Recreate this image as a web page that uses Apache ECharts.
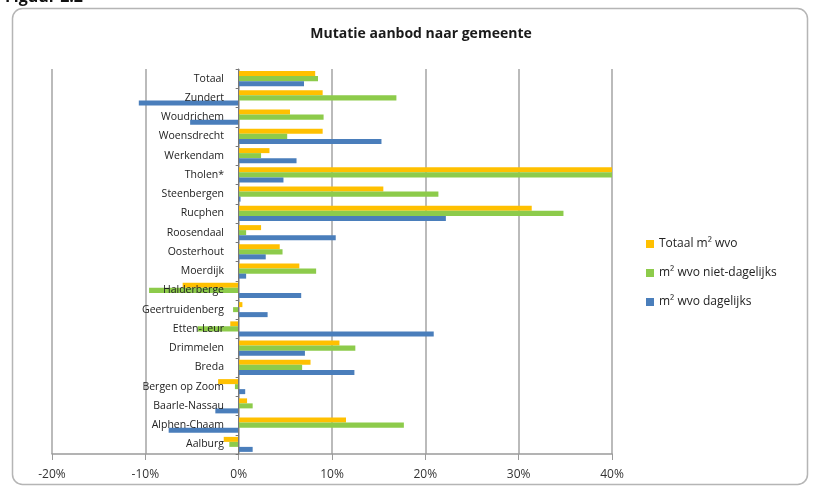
<!DOCTYPE html>
<html>
<head>
<meta charset="utf-8">
<script src="https://cdn.jsdelivr.net/npm/echarts@6/dist/echarts.min.js"></script>
<style>
  html, body { margin: 0; padding: 0; background: #fff; }
  #main { width: 816px; height: 491px; }
</style>
</head>
<body>
<div id="main"></div>
<script>
// gemeenten, van boven naar beneden
var gemeenten = ["Totaal", "Zundert", "Woudrichem", "Woensdrecht", "Werkendam", "Tholen*",
  "Steenbergen", "Rucphen", "Roosendaal", "Oosterhout", "Moerdijk", "Halderberge",
  "Geertruidenberg", "Etten-Leur", "Drimmelen", "Breda", "Bergen op Zoom",
  "Baarle-Nassau", "Alphen-Chaam", "Aalburg"];

// mutatie in %
var totaal = [8.2, 9.0, 5.5, 9.0, 3.3, 40, 15.5, 31.4, 2.4, 4.4, 6.5, -6.0,
  0.4, -0.9, 10.8, 7.7, -2.2, 0.9, 11.5, -1.6];
var nietDagelijks = [8.5, 16.9, 9.1, 5.2, 2.4, 40, 21.4, 34.8, 0.8, 4.7, 8.3, -9.6,
  -0.6, -4.4, 12.5, 6.8, -0.4, 1.5, 17.7, -1.0];
var dagelijks = [7.0, -10.7, -5.2, 15.3, 6.2, 4.8, 0.2, 22.2, 10.4, 2.9, 0.8, 6.7,
  3.1, 20.9, 7.1, 12.4, 0.7, -2.5, -7.5, 1.5];

var myChart = echarts.init(document.getElementById("main"));

var option = {
  animation: false,
  textStyle: { fontFamily: "Open Sans" },
  title: [
    {
      text: "Mutatie aanbod naar gemeente",
      left: 416, top: 22, textAlign: "center",
      textStyle: { fontSize: 14, fontWeight: "bold", color: "#1a1a1a", fontFamily: "Open Sans" }
    },
    {
      text: "Figuur 2.2",
      left: 0, top: -16,
      textStyle: { fontSize: 16, fontWeight: "bold", color: "#111", fontFamily: "Open Sans" }
    }
  ],
  graphic: [{
    type: "rect",
    shape: { x: 12.5, y: 8.5, width: 795, height: 476, r: 10 },
    style: { fill: "none", stroke: "#b5b5b5", lineWidth: 1.5 },
    z: -1
  }],
  legend: {
    orient: "vertical",
    left: 641, top: 233,
    itemWidth: 8, itemHeight: 8, itemGap: 17,
    icon: "rect",
    textStyle: { fontSize: 12, color: "#222" },
    data: ["Totaal m² wvo", "m² wvo niet-dagelijks", "m² wvo dagelijks"]
  },
  grid: { left: 52, right: 204, top: 69, bottom: 37, containLabel: false, outerBoundsMode: "none" },
  xAxis: {
    type: "value",
    min: -20, max: 40, interval: 10,
    axisLabel: { formatter: "{value}%", fontSize: 12, color: "#333", margin: 15 },
    axisLine: { show: true, lineStyle: { color: "#9a9a9a", width: 1.5 } },
    axisTick: { show: true, length: 6, lineStyle: { color: "#9a9a9a" } },
    splitLine: { show: true, lineStyle: { color: "#a5a5a5", width: 1.5 } }
  },
  yAxis: {
    type: "category",
    inverse: true,
    data: gemeenten,
    z: 5,
    axisLine: { onZero: true, lineStyle: { color: "#777", width: 1 } },
    axisTick: { show: true, length: 3, inside: false, lineStyle: { color: "#777" } },
    // labels staan tegen de 0%-lijn
    axisLabel: { fontSize: 10.5, color: "#222", margin: -172 }
  },
  series: [
    {
      name: "Totaal m² wvo", type: "bar", data: totaal,
      itemStyle: { color: "#FFC000" },
      barGap: "0%", barCategoryGap: "22%"
    },
    {
      name: "m² wvo niet-dagelijks", type: "bar", data: nietDagelijks,
      itemStyle: { color: "#8DCB4B" },
      barGap: "0%", barCategoryGap: "22%"
    },
    {
      name: "m² wvo dagelijks", type: "bar", data: dagelijks,
      itemStyle: { color: "#4A7EBB" },
      barGap: "0%", barCategoryGap: "22%"
    }
  ]
};

myChart.setOption(option);
</script>
</body>
</html>
